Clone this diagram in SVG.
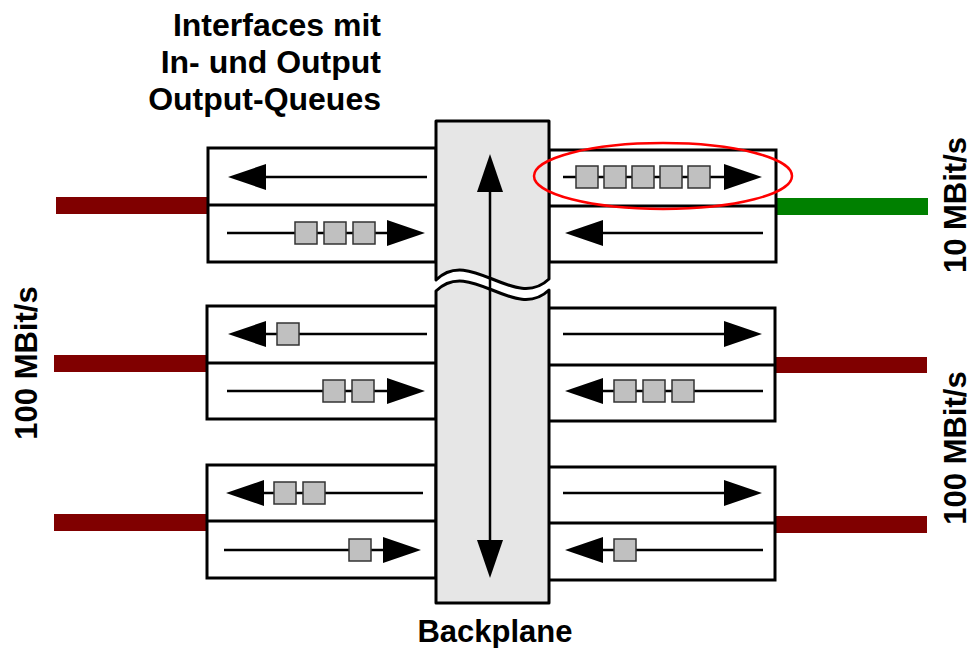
<svg xmlns="http://www.w3.org/2000/svg" width="973" height="648" viewBox="0 0 973 648">
<style>
.box{fill:#fff;stroke:#000;stroke-width:3}
.div{stroke:#000;stroke-width:3}
.ar{stroke:#000;stroke-width:2.5;fill:none;marker-end:url(#ah)}
.q{fill:#c0c0c0;stroke:#333;stroke-width:1.5}
.bp{fill:#e6e6e6;stroke:#000;stroke-width:3;stroke-linejoin:round}
.lbl{font-family:"Liberation Sans",Arial,sans-serif;font-weight:bold;font-size:31px;fill:#000}
.ttl{font-size:32px}
.link{stroke:none}
</style>
<defs>
<marker id="ah" markerUnits="userSpaceOnUse" markerWidth="38" markerHeight="26" refX="10" refY="13" orient="auto-start-reverse" viewBox="0 0 38 26">
<path d="M0,0 L38,13 L0,26 Z" fill="#000"/>
</marker>
</defs>
<rect width="973" height="648" fill="#fff"/>

<g id="connectors">
<rect class="link" x="56" y="197" width="153" height="17" fill="#800000"/>
<rect class="link" x="54" y="355" width="153" height="17" fill="#800000"/>
<rect class="link" x="54" y="514" width="153" height="17" fill="#800000"/>
<rect class="link" x="776" y="198" width="152" height="17" fill="#008000"/>
<rect class="link" x="775" y="357" width="152" height="16" fill="#800000"/>
<rect class="link" x="775" y="516" width="152" height="17" fill="#800000"/>
</g>

<g id="if-l1">
<rect class="box" x="208" y="148" width="228" height="114"/>
<line class="div" x1="208" y1="205" x2="436" y2="205"/>
<line class="ar" x1="427" y1="177" x2="256" y2="177"/>
<line class="ar" x1="227" y1="233" x2="397" y2="233"/>
<rect class="q" x="295" y="222" width="22" height="22"/>
<rect class="q" x="324" y="222" width="22" height="22"/>
<rect class="q" x="353" y="222" width="22" height="22"/>
</g>

<g id="if-r1">
<rect class="box" x="549" y="150" width="227" height="112"/>
<line class="div" x1="549" y1="206" x2="776" y2="206"/>
<line class="ar" x1="563" y1="177" x2="734" y2="177"/>
<rect class="q" x="576" y="166" width="22" height="22"/>
<rect class="q" x="604" y="166" width="22" height="22"/>
<rect class="q" x="632" y="166" width="22" height="22"/>
<rect class="q" x="660" y="166" width="22" height="22"/>
<rect class="q" x="688" y="166" width="22" height="22"/>
<line class="ar" x1="763" y1="233" x2="593" y2="233"/>
</g>

<g id="if-l2">
<rect class="box" x="207" y="306" width="229" height="113"/>
<line class="div" x1="207" y1="363" x2="436" y2="363"/>
<line class="ar" x1="427" y1="334" x2="256" y2="334"/>
<rect class="q" x="277" y="323" width="22" height="22"/>
<line class="ar" x1="227" y1="391" x2="397" y2="391"/>
<rect class="q" x="323" y="380" width="22" height="22"/>
<rect class="q" x="352" y="380" width="22" height="22"/>
</g>

<g id="if-r2">
<rect class="box" x="548" y="308" width="227" height="113"/>
<line class="div" x1="548" y1="365" x2="775" y2="365"/>
<line class="ar" x1="563" y1="334" x2="734" y2="334"/>
<line class="ar" x1="763" y1="391" x2="593" y2="391"/>
<rect class="q" x="614" y="380" width="22" height="22"/>
<rect class="q" x="643" y="380" width="22" height="22"/>
<rect class="q" x="672" y="380" width="22" height="22"/>
</g>

<g id="if-l3">
<rect class="box" x="207" y="465" width="229" height="113"/>
<line class="div" x1="207" y1="521" x2="436" y2="521"/>
<line class="ar" x1="423" y1="493" x2="254" y2="493"/>
<rect class="q" x="274" y="482" width="22" height="22"/>
<rect class="q" x="303" y="482" width="22" height="22"/>
<line class="ar" x1="224" y1="550" x2="393" y2="550"/>
<rect class="q" x="349" y="539" width="22" height="22"/>
</g>

<g id="if-r3">
<rect class="box" x="547" y="467" width="228" height="113"/>
<line class="div" x1="547" y1="523" x2="775" y2="523"/>
<line class="ar" x1="563" y1="493" x2="734" y2="493"/>
<line class="ar" x1="763" y1="550" x2="593" y2="550"/>
<rect class="q" x="614" y="539" width="22" height="22"/>
</g>

<g id="backplane">
<path class="bp" d="M436,280 V121 H549 V279 C515,312 470,246 436,280 Z"/>
<path class="bp" d="M436,291 C470,257 515,323 549,290 V603 H436 Z"/>
<line x1="490" y1="182" x2="490" y2="550" stroke="#000" stroke-width="2.5" marker-start="url(#ah)" marker-end="url(#ah)"/>
<text class="lbl" x="495" y="642" text-anchor="middle">Backplane</text>
</g>

<g id="highlight">
<ellipse cx="663" cy="176" rx="129" ry="33" fill="none" stroke="#ff0000" stroke-width="2.5"/>
</g>

<g id="title">
<text class="lbl ttl" text-anchor="end" x="381" y="36">Interfaces mit</text>
<text class="lbl ttl" text-anchor="end" x="381" y="73">In- und Output</text>
<text class="lbl ttl" text-anchor="end" x="381" y="110">Output-Queues</text>
</g>

<g id="label-left">
<text class="lbl" text-anchor="middle" transform="translate(37,363) rotate(-90)">100 MBit/s</text>
</g>
<g id="label-r1">
<text class="lbl" text-anchor="middle" transform="translate(966,205) rotate(-90)">10 MBit/s</text>
</g>
<g id="label-r2">
<text class="lbl" text-anchor="middle" transform="translate(966,448) rotate(-90)">100 MBit/s</text>
</g>
</svg>
